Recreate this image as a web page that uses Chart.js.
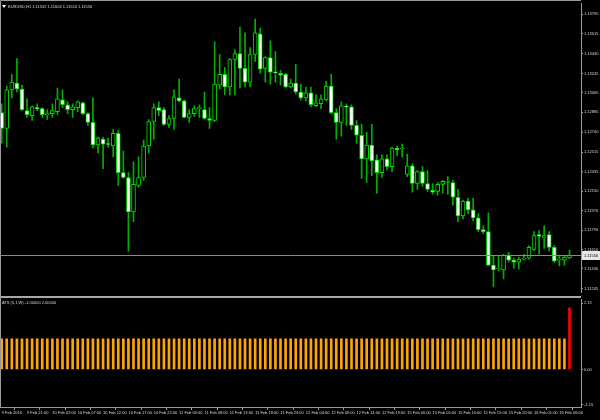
<!DOCTYPE html>
<html>
<head>
<meta charset="utf-8">
<script src="https://cdn.jsdelivr.net/npm/chart.js@4.4.1/dist/chart.umd.min.js"></script>
<style>
    html, body { margin: 0; padding: 0; background: #000; }
    #wrap { position: relative; width: 600px; height: 420px; overflow: hidden; background: #000; }
    #main-div { position: absolute; left: 0; top: 0; }
    #ind-div { position: absolute; left: 0; top: 296px; }
</style>
</head>
<body>
<div id="wrap">
    <div id="main-div"><canvas id="main-chart" width="600" height="296"></canvas></div>
    <div id="ind-div"><canvas id="ind-chart" width="600" height="124"></canvas></div>
</div>
<script>
// EURUSD H1, 9 Feb 16:00 -> 16 Feb 08:00
let symbolTitle = "EURUSD,H1 1.11532 1.11604 1.11524 1.11556";
let indicatorTitle = "ATS (5,1,W) -1.00000 2.00000";

let opens = [1.12881, 1.12735, 1.13092, 1.13155, 1.13101, 1.12900, 1.12854, 1.12927, 1.12918, 1.12863,
    1.12872, 1.12891, 1.13000, 1.12954, 1.12909, 1.12927, 1.12973, 1.12872, 1.12790, 1.12580,
    1.12635, 1.12589, 1.12571, 1.12689, 1.12324, 1.12278, 1.11958, 1.12205, 1.12278, 1.12571,
    1.12799, 1.12927, 1.12909, 1.12772, 1.12827, 1.13018, 1.12991, 1.12836, 1.12872, 1.12918,
    1.12909, 1.12827, 1.12808, 1.13137, 1.13238, 1.13119, 1.13375, 1.13430, 1.13293, 1.13165,
    1.13421, 1.13613, 1.13293, 1.13393, 1.13256, 1.13247, 1.13238, 1.13119, 1.13155, 1.13073,
    1.13018, 1.13064, 1.12945, 1.12964, 1.13000, 1.13128, 1.12881, 1.12790, 1.12936, 1.12936,
    1.12763, 1.12671, 1.12452, 1.12580, 1.12443, 1.12324, 1.12452, 1.12379, 1.12552, 1.12543,
    1.12306, 1.12388, 1.12223, 1.12333, 1.12223, 1.12159, 1.12150, 1.12214, 1.12232, 1.12232,
    1.12095, 1.11922, 1.12059, 1.11977, 1.11903, 1.11794, 1.11775, 1.11465, 1.11428, 1.11419,
    1.11556, 1.11510, 1.11492, 1.11520, 1.11529, 1.11611, 1.11748, 1.11721, 1.11748, 1.11629,
    1.11510, 1.11510, 1.11532];
let highs = [1.12964, 1.13128, 1.13238, 1.13384, 1.13137, 1.13009, 1.12945, 1.12964, 1.12927, 1.12909,
    1.12964, 1.13110, 1.13092, 1.12982, 1.12964, 1.12991, 1.12982, 1.12881, 1.13018, 1.12653,
    1.12653, 1.12644, 1.12726, 1.12717, 1.12525, 1.12324, 1.12424, 1.12470, 1.12625, 1.12817,
    1.12964, 1.12982, 1.12927, 1.12854, 1.13092, 1.13192, 1.13000, 1.12909, 1.12945, 1.12954,
    1.13073, 1.12927, 1.13539, 1.13421, 1.13302, 1.13384, 1.13466, 1.13677, 1.13622, 1.13485,
    1.13750, 1.13667, 1.13402, 1.13549, 1.13448, 1.13274, 1.13247, 1.13192, 1.13329, 1.13146,
    1.13119, 1.13119, 1.13046, 1.13046, 1.13174, 1.13238, 1.12918, 1.12982, 1.12964, 1.12954,
    1.12808, 1.12772, 1.12698, 1.12772, 1.12488, 1.12488, 1.12488, 1.12561, 1.12571, 1.12589,
    1.12497, 1.12406, 1.12342, 1.12379, 1.12342, 1.12223, 1.12232, 1.12251, 1.12287, 1.12251,
    1.12168, 1.12068, 1.12086, 1.12086, 1.11940, 1.11830, 1.11949, 1.11556, 1.11556, 1.11565,
    1.11583, 1.11529, 1.11538, 1.11565, 1.11647, 1.11775, 1.11785, 1.11830, 1.11775, 1.11647,
    1.11556, 1.11556, 1.11604];
let lows = [1.12598, 1.12561, 1.13018, 1.13073, 1.12900, 1.12836, 1.12808, 1.12900, 1.12836, 1.12817,
    1.12836, 1.12863, 1.12927, 1.12872, 1.12836, 1.12891, 1.12863, 1.12763, 1.12552, 1.12507,
    1.12360, 1.12561, 1.12470, 1.12205, 1.12269, 1.11593, 1.11867, 1.12187, 1.12251, 1.12507,
    1.12635, 1.12854, 1.12763, 1.12744, 1.12726, 1.12982, 1.12833, 1.12790, 1.12845, 1.12836,
    1.12817, 1.12735, 1.12799, 1.13101, 1.13046, 1.13046, 1.13046, 1.13110, 1.13119, 1.13119,
    1.13357, 1.13247, 1.13165, 1.13146, 1.13165, 1.13137, 1.13110, 1.13110, 1.13055, 1.13000,
    1.12991, 1.12936, 1.12936, 1.12918, 1.12991, 1.12872, 1.12635, 1.12662, 1.12763, 1.12726,
    1.12598, 1.12269, 1.12232, 1.12296, 1.12132, 1.12278, 1.12351, 1.12333, 1.12479, 1.12470,
    1.12287, 1.12141, 1.12168, 1.12196, 1.12150, 1.12123, 1.12114, 1.12132, 1.12123, 1.12022,
    1.11867, 1.11894, 1.11940, 1.11876, 1.11775, 1.11757, 1.11456, 1.11264, 1.11410, 1.11337,
    1.11492, 1.11437, 1.11428, 1.11510, 1.11520, 1.11602, 1.11565, 1.11620, 1.11593, 1.11492,
    1.11456, 1.11465, 1.11524];
let closes = [1.12735, 1.13092, 1.13165, 1.13101, 1.12909, 1.12863, 1.12936, 1.12918, 1.12863, 1.12872,
    1.12900, 1.13009, 1.12954, 1.12909, 1.12936, 1.12982, 1.12872, 1.12790, 1.12580, 1.12644,
    1.12589, 1.12585, 1.12689, 1.12324, 1.12278, 1.11958, 1.12214, 1.12278, 1.12571, 1.12799,
    1.12927, 1.12900, 1.12772, 1.12827, 1.13028, 1.12991, 1.12836, 1.12872, 1.12918, 1.12922,
    1.12827, 1.12808, 1.13146, 1.13238, 1.13119, 1.13375, 1.13430, 1.13293, 1.13165, 1.13421,
    1.13622, 1.13284, 1.13393, 1.13256, 1.13252, 1.13229, 1.13119, 1.13155, 1.13073, 1.13018,
    1.13064, 1.12954, 1.12973, 1.13009, 1.13128, 1.12881, 1.12790, 1.12945, 1.12932, 1.12763,
    1.12671, 1.12452, 1.12580, 1.12433, 1.12324, 1.12452, 1.12379, 1.12552, 1.12534, 1.12548,
    1.12388, 1.12223, 1.12333, 1.12223, 1.12168, 1.12141, 1.12214, 1.12242, 1.12232, 1.12095,
    1.11922, 1.12059, 1.11977, 1.11903, 1.11794, 1.11775, 1.11465, 1.11419, 1.11428, 1.11556,
    1.11510, 1.11492, 1.11520, 1.11524, 1.11629, 1.11738, 1.11730, 1.11738, 1.11629, 1.11501,
    1.11510, 1.11538, 1.11556];

// indicator histogram, one value per bar
let atsValues = [1, 1, 1, 1, 1, 1, 1, 1, 1, 1, 1, 1, 1, 1, 1, 1, 1, 1, 1, 1,
    1, 1, 1, 1, 1, 1, 1, 1, 1, 1, 1, 1, 1, 1, 1, 1, 1, 1, 1, 1,
    1, 1, 1, 1, 1, 1, 1, 1, 1, 1, 1, 1, 1, 1, 1, 1, 1, 1, 1, 1,
    1, 1, 1, 1, 1, 1, 1, 1, 1, 1, 1, 1, 1, 1, 1, 1, 1, 1, 1, 1,
    1, 1, 1, 1, 1, 1, 1, 1, 1, 1, 1, 1, 1, 1, 1, 1, 1, 1, 1, 1,
    1, 1, 1, 1, 1, 1, 1, 1, 1, 1, 1, 1, 2];

let priceTicks = [1.13795, 1.13615, 1.13430, 1.13245, 1.13065, 1.12885, 1.12700, 1.12515,
    1.12335, 1.12150, 1.11970, 1.11790, 1.11610, 1.11430, 1.11245];
let atsTicks = [2.15, 0, -1.15];

let timeLabels = ["9 Feb 2016", "9 Feb 21:00", "10 Feb 02:00", "10 Feb 07:00", "10 Feb 12:00",
    "10 Feb 17:00", "10 Feb 22:00", "11 Feb 03:00", "11 Feb 08:00", "11 Feb 13:00", "11 Feb 18:00",
    "11 Feb 23:00", "12 Feb 04:00", "12 Feb 09:00", "12 Feb 14:00", "12 Feb 19:00", "15 Feb 00:00",
    "15 Feb 05:00", "15 Feb 10:00", "15 Feb 15:00", "15 Feb 20:00", "16 Feb 01:00", "16 Feb 06:00"];
let timeLabelStep = 5;

// look
let FONT = "'Liberation Sans', Arial, sans-serif";
let TEXT = "#d8d8d8";
let FRAME = "#9a9a9a";
let xMin = -0.33;
let xMax = 114.27;

function fixWidth(scale) { scale.width = 19; }

function buildCandles() {
    let wicks = [];
    let bodies = [];
    let fills = [];
    for (let i = 0; i < closes.length; i++) {
        wicks.push({x: i, y: [lows[i], highs[i]]});
        bodies.push({x: i, y: [opens[i], closes[i]]});
        // bear candle white, bull candle black
        fills.push(closes[i] < opens[i] ? "#ffffff" : "#000000");
    }
    return {wicks: wicks, bodies: bodies, fills: fills};
}

let mainOverlay = {
    id: "mainOverlay",
    afterDraw(chart) {
        let ctx = chart.ctx;
        let area = chart.chartArea;
        let y = chart.scales.y;
        ctx.save();
        // frame
        ctx.strokeStyle = FRAME;
        ctx.lineWidth = 1;
        ctx.beginPath();
        ctx.moveTo(0.5, chart.height);
        ctx.lineTo(0.5, 0.5);
        ctx.lineTo(area.right, 0.5);
        ctx.stroke();

        // bid line
        let last = closes[closes.length - 1];
        let py = Math.round(y.getPixelForValue(last)) + 0.5;
        ctx.strokeStyle = "#8a8a8a";
        ctx.beginPath();
        ctx.moveTo(area.left, py);
        ctx.lineTo(area.right, py);
        ctx.stroke();

        // price box
        ctx.fillStyle = "#e6e6e6";
        ctx.fillRect(area.right + 1, py - 4.5, 19, 9);
        ctx.fillStyle = "#000";
        ctx.font = "4px " + FONT;
        ctx.textBaseline = "middle";
        ctx.textAlign = "left";
        ctx.fillText(last.toFixed(5), area.right + 3, py);

        // title
        ctx.fillStyle = "#fff";
        ctx.beginPath();
        ctx.moveTo(2, 5);
        ctx.lineTo(6, 5);
        ctx.lineTo(4, 8);
        ctx.closePath();
        ctx.fill();
        ctx.fillStyle = TEXT;
        ctx.fillText(symbolTitle, 8, 6.5);
        ctx.restore();
    }
};

let indOverlay = {
    id: "indOverlay",
    afterDraw(chart) {
        let ctx = chart.ctx;
        let area = chart.chartArea;
        ctx.save();
        // separator between the two windows
        ctx.fillStyle = "#a8a8a8";
        ctx.fillRect(0, 0, area.right, 2);
        ctx.strokeStyle = FRAME;
        ctx.lineWidth = 1;
        ctx.beginPath();
        ctx.moveTo(0.5, 0);
        ctx.lineTo(0.5, area.bottom);
        ctx.stroke();

        ctx.fillStyle = TEXT;
        ctx.font = "4px " + FONT;
        ctx.textBaseline = "middle";
        ctx.textAlign = "left";
        ctx.fillText(indicatorTitle, 2, 7);
        ctx.restore();
    }
};

function initializeMainChart() {
    let candles = buildCandles();
    let ctx = document.getElementById("main-chart").getContext("2d");
    return new Chart(ctx, {
        type: "bar",
        data: {
            datasets: [{
                data: candles.bodies,
                backgroundColor: candles.fills,
                borderColor: "#00dc00",
                borderWidth: 1,
                borderSkipped: false,
                barThickness: 4,
                minBarLength: 1,
                grouped: false,
                order: 1
            }, {
                data: candles.wicks,
                backgroundColor: "#00b000",
                borderWidth: 0,
                barThickness: 1,
                grouped: false,
                order: 2
            }]
        },
        options: {
            responsive: false,
            animation: false,
            events: [],
            layout: {padding: {top: 1, left: 0, right: 0, bottom: 0}, autoPadding: false},
            plugins: {legend: {display: false}, tooltip: {enabled: false}},
            scales: {
                x: {type: "linear", min: xMin, max: xMax, offset: false, display: false},
                y: {
                    position: "right",
                    min: 1.11209,
                    max: 1.13896,
                    afterFit: fixWidth,
                    afterBuildTicks: (scale) => {
                        scale.ticks = priceTicks.map(v => ({value: v}));
                    },
                    ticks: {
                        autoSkip: false,
                        padding: 1,
                        color: TEXT,
                        font: {family: FONT, size: 4},
                        callback: (v) => Number(v).toFixed(5)
                    },
                    grid: {drawOnChartArea: false, drawTicks: true, tickLength: 2, color: FRAME},
                    border: {display: true, color: FRAME, width: 1}
                }
            }
        },
        plugins: [mainOverlay]
    });
}

function initializeIndicatorChart() {
    let ctx = document.getElementById("ind-chart").getContext("2d");
    let points = [];
    let colors = [];
    for (let i = 0; i < atsValues.length; i++) {
        points.push({x: i, y: atsValues[i]});
        colors.push(atsValues[i] >= 2 ? "#ff0000" : "#ffa500");
    }
    return new Chart(ctx, {
        type: "bar",
        data: {
            datasets: [{
                data: points,
                backgroundColor: colors,
                borderWidth: 0,
                barThickness: 2,
                grouped: false
            }]
        },
        options: {
            responsive: false,
            animation: false,
            events: [],
            layout: {padding: {top: 2, left: 0, right: 0, bottom: 0}, autoPadding: false},
            plugins: {legend: {display: false}, tooltip: {enabled: false}},
            scales: {
                x: {
                    type: "linear",
                    min: xMin,
                    max: xMax,
                    offset: false,
                    afterFit: (scale) => { scale.height = 13; },
                    afterBuildTicks: (scale) => {
                        scale.ticks = timeLabels.map((t, k) => ({value: k * timeLabelStep}));
                    },
                    ticks: {
                        autoSkip: false,
                        maxRotation: 0,
                        minRotation: 0,
                        align: "start",
                        padding: 0,
                        color: TEXT,
                        font: {family: FONT, size: 4},
                        callback: (v) => timeLabels[Math.round(v / timeLabelStep)]
                    },
                    grid: {drawOnChartArea: false, drawTicks: true, tickLength: 3, color: FRAME},
                    border: {display: true, color: FRAME, width: 1}
                },
                y: {
                    position: "right",
                    min: -1.22,
                    max: 2.278,
                    afterFit: fixWidth,
                    afterBuildTicks: (scale) => {
                        scale.ticks = atsTicks.map(v => ({value: v}));
                    },
                    ticks: {
                        autoSkip: false,
                        padding: 1,
                        color: TEXT,
                        font: {family: FONT, size: 4},
                        callback: (v) => Number(v).toFixed(2)
                    },
                    grid: {drawOnChartArea: false, drawTicks: true, tickLength: 2, color: FRAME},
                    border: {display: true, color: FRAME, width: 1}
                }
            }
        },
        plugins: [indOverlay]
    });
}

initializeMainChart();
initializeIndicatorChart();
</script>
</body>
</html>
